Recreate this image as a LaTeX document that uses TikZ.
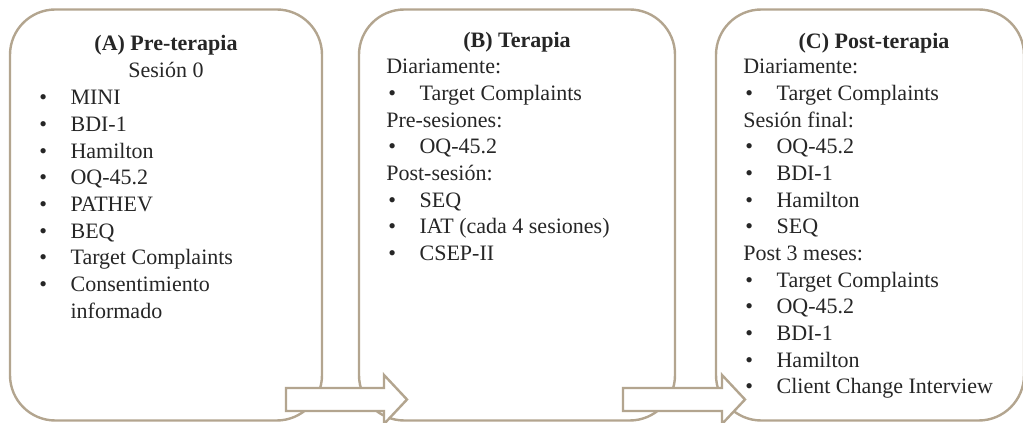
\documentclass[tikz,border=0pt]{standalone}
\usepackage{fontspec}
\setmainfont{Liberation Serif}
\usetikzlibrary{fit}
\definecolor{frame}{HTML}{B3A58F}
\definecolor{ink}{HTML}{262626}
\tikzset{
  panel/.style={draw=frame, line width=1.8pt, rounded corners=34pt, inner sep=0pt, fill=white},
  flowarrow/.style={draw=frame, line width=1.8pt, fill=white, line join=miter},
  heading/.style={font=\fontsize{16.5}{20}\selectfont\bfseries, text=ink, inner sep=0pt, anchor=base},
  plain/.style={font=\fontsize{16.5}{20}\selectfont, text=ink, inner sep=0pt},
  listing/.style={plain, anchor=base west, align=left},
}
\newcommand{\itm}[1]{\makebox[25pt][l]{\hspace{1.5pt}•}#1}
\begin{document}
\begin{tikzpicture}[x=0.75pt,y=-0.75pt]
  \useasboundingbox (0,0) rectangle (1023,423);
  \clip (0,0) rectangle (1023,423);

  % the three stages
  \node (A) [panel, fit={(10,9.5) (322,420.5)}] {};
  \node (B) [panel, fit={(359,9.5) (675,420.5)}] {};
  \node (C) [panel, fit={(716,9.5) (1024,420.5)}] {};

  % stage A
  \node (Ah) [heading] at (166,51) {(A) Pre-terapia};
  \node (As) [plain, anchor=base] at (166,78) {Sesión 0};
  \node (Al) [listing] at (37,105) {\begin{tabular}[t]{@{}l@{}}
    \itm{MINI}\\
    \itm{BDI-1}\\
    \itm{Hamilton}\\
    \itm{OQ-45.2}\\
    \itm{PATHEV}\\
    \itm{BEQ}\\
    \itm{Target Complaints}\\
    \itm{Consentimiento}\\
    \hspace{25pt}informado
  \end{tabular}};

  % stage B
  \node (Bh) [heading] at (517,48) {(B) Terapia};
  \node (Bl) [listing] at (386,74) {\begin{tabular}[t]{@{}l@{}}
    Diariamente:\\
    \itm{Target Complaints}\\
    Pre-sesiones:\\
    \itm{OQ-45.2}\\
    Post-sesión:\\
    \itm{SEQ}\\
    \itm{IAT (cada 4 sesiones)}\\
    \itm{CSEP-II}
  \end{tabular}};

  % stage C
  \node (Ch) [heading] at (874,49) {(C) Post-terapia};
  \node (Cl) [listing] at (743,74) {\begin{tabular}[t]{@{}l@{}}
    Diariamente:\\
    \itm{Target Complaints}\\
    Sesión final:\\
    \itm{OQ-45.2}\\
    \itm{BDI-1}\\
    \itm{Hamilton}\\
    \itm{SEQ}\\
    Post 3 meses:\\
    \itm{Target Complaints}\\
    \itm{OQ-45.2}\\
    \itm{BDI-1}\\
    \itm{Hamilton}\\
    \itm{Client Change Interview}
  \end{tabular}};

  % block arrows linking the stages
  \draw[flowarrow] (286,388) -- (384,388) -- (384,375) -- (407,399.5)
    -- (384,424) -- (384,411) -- (286,411) -- cycle;
  \draw[flowarrow] (623,388) -- (722,388) -- (722,375) -- (745,399.5)
    -- (722,424) -- (722,411) -- (623,411) -- cycle;
\end{tikzpicture}
\end{document}
